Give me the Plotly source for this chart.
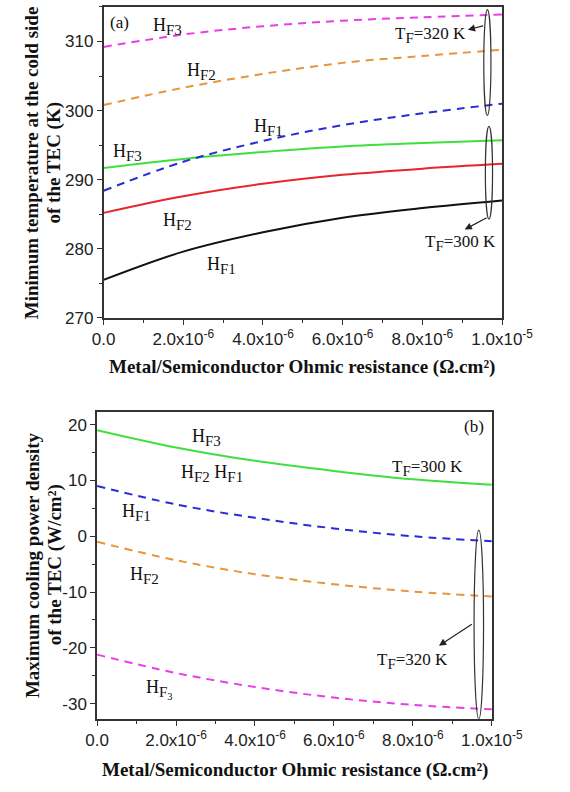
import plotly.graph_objects as go

# Ohmic contact resistance (ohm.cm^2)
r_contact = [0.0, 2e-6, 4e-6, 6e-6, 8e-6, 1e-5]

# (a) Minimum cold-side temperature (K)
tmin_300_hf1 = [275.5, 279.6, 282.4, 284.5, 285.9, 287.0]
tmin_300_hf2 = [285.2, 287.6, 289.4, 290.7, 291.6, 292.3]
tmin_300_hf3 = [291.7, 293.0, 294.0, 294.8, 295.3, 295.7]
tmin_320_hf1 = [288.4, 292.6, 295.6, 297.9, 299.6, 301.0]
tmin_320_hf2 = [300.8, 303.3, 305.3, 306.9, 307.9, 308.8]
tmin_320_hf3 = [309.2, 311.0, 312.2, 313.0, 313.5, 313.9]

# (b) Maximum cooling power density (W/cm^2)
qmax_300 = [19.0, 15.9, 13.5, 11.7, 10.2, 9.2]
qmax_320_hf1 = [9.0, 5.7, 3.3, 1.4, 0.0, -0.9]
qmax_320_hf2 = [-1.0, -4.3, -6.8, -8.6, -9.9, -10.8]
qmax_320_hf3 = [-21.2, -24.5, -27.0, -28.9, -30.2, -31.0]

x_tickvals = [0.0, 2e-6, 4e-6, 6e-6, 8e-6, 1e-5]
x_ticktext = ["0.0", "2.0x10<sup>-6</sup>", "4.0x10<sup>-6</sup>", "6.0x10<sup>-6</sup>",
              "8.0x10<sup>-6</sup>", "1.0x10<sup>-5</sup>"]
ya_tickvals = [270, 280, 290, 300, 310]
yb_tickvals = [-30, -20, -10, 0, 10, 20]
yb_ticktext = ["-30", "-20", "-10", "0", "10", "20"]

C_BLACK = "#111111"
C_RED = "#e8262a"
C_GREEN = "#3ee03e"
C_BLUE = "#2a2ad6"
C_ORANGE = "#e8953c"
C_MAGENTA = "#e83ee8"

fig = go.Figure()

def add_line(x, y, color, dash, xa, ya):
    fig.add_trace(go.Scatter(x=x, y=y, mode="lines", xaxis=xa, yaxis=ya,
                             line=dict(color=color, width=2, dash=dash, shape="spline"),
                             showlegend=False, hoverinfo="skip"))

dash_pat = "8px,6px"
add_line(r_contact, tmin_300_hf1, C_BLACK, "solid", "x", "y")
add_line(r_contact, tmin_300_hf2, C_RED, "solid", "x", "y")
add_line(r_contact, tmin_300_hf3, C_GREEN, "solid", "x", "y")
add_line(r_contact, tmin_320_hf1, C_BLUE, dash_pat, "x", "y")
add_line(r_contact, tmin_320_hf2, C_ORANGE, dash_pat, "x", "y")
add_line(r_contact, tmin_320_hf3, C_MAGENTA, dash_pat, "x", "y")

add_line(r_contact, qmax_300, C_GREEN, "solid", "x2", "y2")
add_line(r_contact, qmax_320_hf1, C_BLUE, dash_pat, "x2", "y2")
add_line(r_contact, qmax_320_hf2, C_ORANGE, dash_pat, "x2", "y2")
add_line(r_contact, qmax_320_hf3, C_MAGENTA, dash_pat, "x2", "y2")

tick_font = dict(family="Liberation Sans, Arial, sans-serif", size=17, color="#222")
serif = "Liberation Serif, Times New Roman, serif"

axis_common = dict(showline=True, linecolor="#333", linewidth=1.5, mirror=True,
                   ticks="outside", ticklen=5, tickwidth=1.2, tickcolor="#333",
                   showgrid=False, zeroline=False, tickfont=tick_font)

fig.update_layout(
    width=570, height=792, margin=dict(l=0, r=0, t=0, b=0),
    paper_bgcolor="white", plot_bgcolor="white",
    xaxis=dict(domain=[0.1737, 0.930], anchor="y", range=[0, 1e-5],
               tickvals=x_tickvals, ticktext=x_ticktext,
               minor=dict(dtick=1e-6, ticks="outside", ticklen=3, tickcolor="#333"),
               **axis_common),
    yaxis=dict(domain=[0.5934, 0.9912], anchor="x", range=[270, 315],
               tickvals=ya_tickvals,
               minor=dict(dtick=5, ticks="outside", ticklen=3, tickcolor="#333"),
               **axis_common),
    xaxis2=dict(domain=[0.1614, 0.9105], anchor="y2", range=[0, 1e-5],
                tickvals=x_tickvals, ticktext=x_ticktext,
                minor=dict(dtick=1e-6, ticks="outside", ticklen=3, tickcolor="#333"),
                **axis_common),
    yaxis2=dict(domain=[0.0808, 0.4735], anchor="x2", range=[-32.7, 22.3],
                tickvals=yb_tickvals, ticktext=yb_ticktext,
                minor=dict(dtick=5, ticks="outside", ticklen=3, tickcolor="#333"),
                **axis_common),
)

ann = []

def label(text, x, y, xr, yr, size=18):
    ann.append(dict(text=text, x=x, y=y, xref=xr, yref=yr, showarrow=False,
                    font=dict(family=serif, size=size, color="#111")))

def hf(n):
    return "H<sub><span style='font-size:15px'>F%s</span></sub>" % n

def tf(val):
    return "T<sub><span style='font-size:15px'>F</span></sub>=%d K" % val

# panel (a) labels
label("(a)", 0.39e-6, 312.8, "x", "y", 17)
label(hf(3), 1.6e-6, 312.2, "x", "y")
label(hf(2), 2.45e-6, 305.6, "x", "y")
label(hf(1), 4.15e-6, 297.6, "x", "y")
label(hf(3), 0.6e-6, 294.0, "x", "y")
label(hf(2), 1.85e-6, 284.0, "x", "y")
label(hf(1), 2.95e-6, 277.6, "x", "y")
label(tf(320), 0.82e-5, 311.0, "x", "y", 17)
label(tf(300), 0.895e-5, 280.9, "x", "y", 17)

# panel (b) labels
label("(b)", 0.955e-5, 19.6, "x2", "y2", 17)
label(hf(3), 2.76e-6, 17.6, "x2", "y2")
label(hf(2) + " " + hf(1), 2.9e-6, 11.2, "x2", "y2")
label(tf(300), 0.837e-5, 12.3, "x2", "y2", 17)
label(hf(1), 1.0e-6, 4.3, "x2", "y2")
label(hf(2), 1.2e-6, -7.0, "x2", "y2")
label("H<sub><span style='font-size:15px'>F<sub>3</sub></span></sub>", 1.57e-6, -27.4, "x2", "y2")
label(tf(320), 0.80e-5, -22.4, "x2", "y2", 17)

# arrows from the grouping ellipses to their labels
def arrow(xh, yh, xt, yt, xr, yr):
    ann.append(dict(text="", x=xh, y=yh, ax=xt, ay=yt, xref=xr, yref=yr,
                    axref=xr, ayref=yr, showarrow=True, arrowhead=2,
                    arrowsize=1.2, arrowwidth=1.2, arrowcolor="#222"))

arrow(0.914e-5, 311.7, 0.956e-5, 312.3, "x", "y")
arrow(0.906e-5, 282.8, 0.965e-5, 284.6, "x", "y")
arrow(0.866e-5, -19.6, 0.953e-5, -15.6, "x2", "y2")

# axis titles
title_font = dict(family=serif, size=19, color="#111")

def title(text, px, py, angle=0):
    ann.append(dict(text="<b>%s</b>" % text, x=px / 570, y=1 - py / 792,
                    xref="paper", yref="paper", xanchor="center", yanchor="middle",
                    showarrow=False, textangle=angle, font=title_font))

title("Metal/Semiconductor Ohmic resistance (Ω.cm²)", 314, 372)
title("Metal/Semiconductor Ohmic resistance (Ω.cm²)", 306, 780)
title("Minimum temperature at the cold side", 22, 165, -90)
title("of the TEC (K)", 45, 165, -90)
title("Maximum cooling power density", 22, 572, -90)
title("of the TEC (W/cm²)", 46, 572, -90)

fig.update_layout(annotations=ann)

# grouping ellipses
shapes = [
    dict(type="circle", xref="x", yref="y", x0=0.954e-5, x1=0.972e-5, y0=299.3, y1=314.6,
         line=dict(color="#333", width=1.2)),
    dict(type="circle", xref="x", yref="y", x0=0.958e-5, x1=0.976e-5, y0=284.3, y1=297.7,
         line=dict(color="#333", width=1.2)),
    dict(type="circle", xref="x2", yref="y2", x0=0.955e-5, x1=0.979e-5, y0=-32.7, y1=1.1,
         line=dict(color="#333", width=1.2)),
]
fig.update_layout(shapes=shapes)

fig.write_html("out.html")
